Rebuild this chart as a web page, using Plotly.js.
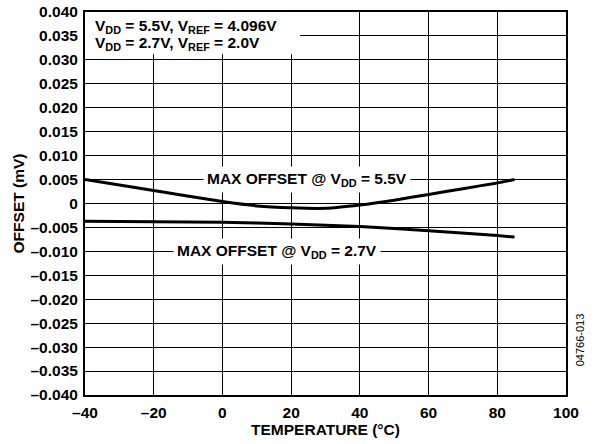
<!DOCTYPE html>
<html><head><meta charset="utf-8">
<script src="https://cdn.plot.ly/plotly-3.0.1.min.js"></script>
<style>body{margin:0;background:#fff}</style>
</head><body><div id="c" style="width:598px;height:444px"></div>
<script>
const temp55 = [-40, -20, 0, 10, 20, 30, 40, 50, 60, 70, 80, 85];
const off55 = [0.0050, 0.0027, 0.0004, -0.0005, -0.0009, -0.0010, -0.0003, 0.0007, 0.0019, 0.0031, 0.0043, 0.0050];
const temp27 = [-40, -20, 0, 20, 40, 60, 80, 85];
const off27 = [-0.0037, -0.0038, -0.0039, -0.0043, -0.0048, -0.0057, -0.0067, -0.0070];
const yTickVals = [0.040,0.035,0.030,0.025,0.020,0.015,0.010,0.005,0,-0.005,-0.010,-0.015,-0.020,-0.025,-0.030,-0.035,-0.040];
const yTickText = ["0.040","0.035","0.030","0.025","0.020","0.015","0.010","0.005","0","–0.005","–0.010","–0.015","–0.020","–0.025","–0.030","–0.035","–0.040"];
const xTickVals = [-40,-20,0,20,40,60,80,100];
const xTickText = ["–40","–20","0","20","40","60","80","100"];
const font = "Liberation Sans, Arial, sans-serif";
const traces = [
  {x: temp55, y: off55, mode: 'lines', line: {color: '#000', width: 3, shape: 'spline', smoothing: 0.6}, hoverinfo: 'skip'},
  {x: temp27, y: off27, mode: 'lines', line: {color: '#000', width: 3, shape: 'spline', smoothing: 0.6}, hoverinfo: 'skip'}
];
const layout = {
  width: 598, height: 444,
  margin: {l: 85, r: 32, t: 12, b: 49},
  paper_bgcolor: '#fff', plot_bgcolor: '#fff',
  showlegend: false,
  font: {family: font, color: '#000'},
  xaxis: {range: [-40, 100], tickvals: xTickVals, ticktext: xTickText,
    showgrid: true, gridcolor: '#000', gridwidth: 1, zeroline: false,
    showline: true, linecolor: '#000', linewidth: 2, mirror: true, ticks: 'outside', ticklen: 2, tickcolor: '#fff',
    tickfont: {family: font, size: 15.5, color: '#000', weight: 'bold'},
    title: {text: 'TEMPERATURE (°C)', font: {family: font, size: 15.5, weight: 'bold'}, standoff: 2}},
  yaxis: {range: [-0.040, 0.040], tickvals: yTickVals, ticktext: yTickText,
    showgrid: true, gridcolor: '#000', gridwidth: 1, zeroline: false,
    showline: true, linecolor: '#000', linewidth: 2, mirror: true, ticks: 'outside', ticklen: 2, tickcolor: '#fff',
    tickfont: {family: font, size: 15.5, color: '#000', weight: 'bold'},
    title: {text: 'OFFSET (mV)', font: {family: font, size: 15.5, weight: 'bold'}, standoff: 2}},
  shapes: [
    {type: 'rect', xref: 'x', yref: 'y', x0: -40, x1: 22.6, y0: 0.0312, y1: 0.040,
     fillcolor: '#fff', line: {width: 0}, layer: 'between'}
  ],
  annotations: [
    {xref: 'paper', yref: 'paper', x: 0.016, y: 0.963, xanchor: 'left', yanchor: 'middle', align: 'left',
     text: 'V<sub>DD</sub> = 5.5V, V<sub>REF</sub> = 4.096V',
     showarrow: false, font: {family: font, size: 15.5, weight: 'bold', color: '#000'}},
    {xref: 'paper', yref: 'paper', x: 0.016, y: 0.918, xanchor: 'left', yanchor: 'middle', align: 'left',
     text: 'V<sub>DD</sub> = 2.7V, V<sub>REF</sub> = 2.0V',
     showarrow: false, font: {family: font, size: 15.5, weight: 'bold', color: '#000'}},
    {xref: 'x', yref: 'y', x: 24.5, y: 0.005, text: 'MAX OFFSET @ V<sub>DD</sub> = 5.5V',
     showarrow: false, bgcolor: '#fff', borderpad: 3,
     font: {family: font, size: 15.5, weight: 'bold', color: '#000'}},
    {xref: 'x', yref: 'y', x: 16, y: -0.010, text: 'MAX OFFSET @ V<sub>DD</sub> = 2.7V',
     showarrow: false, bgcolor: '#fff', borderpad: 3,
     font: {family: font, size: 15.5, weight: 'bold', color: '#000'}},
    {xref: 'paper', yref: 'paper', x: 1.045, y: 0.07, yanchor: 'bottom', textangle: -90, text: '04766-013',
     showarrow: false, font: {family: font, size: 11, color: '#000'}}
  ]
};
Plotly.newPlot('c', traces, layout, {staticPlot: true});
</script></body></html>
